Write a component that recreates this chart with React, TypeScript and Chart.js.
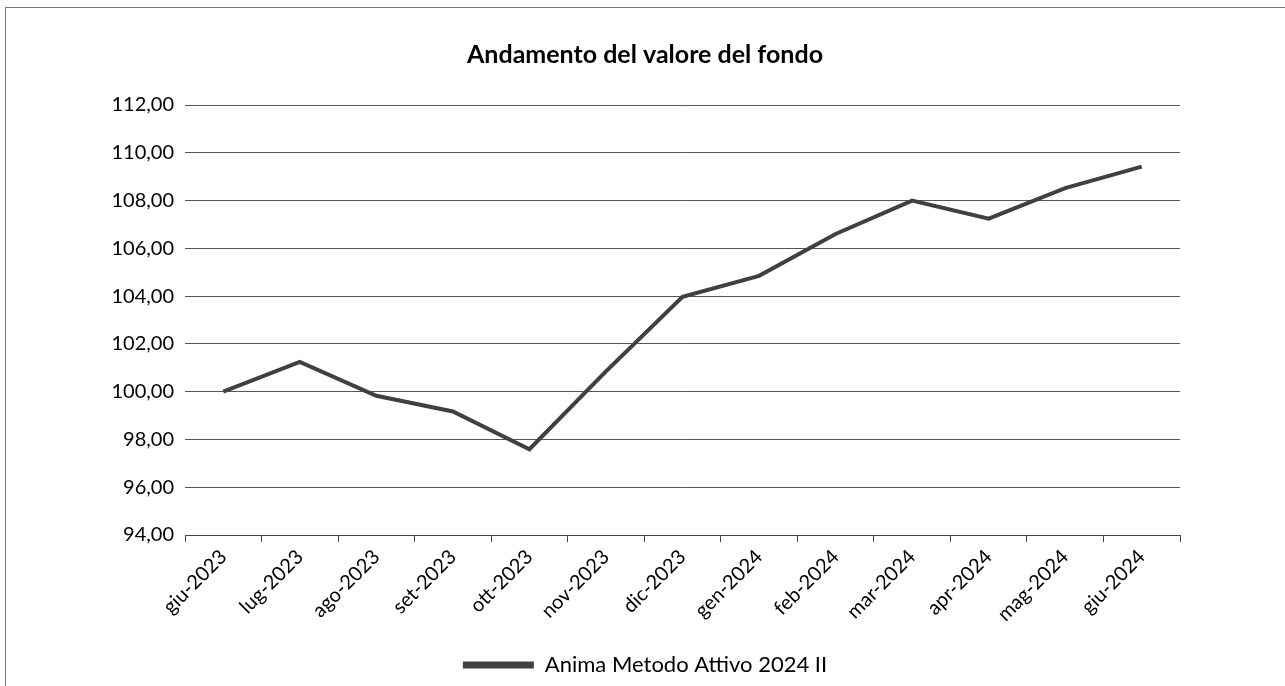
import React, { useEffect, useRef } from "react";
import { Chart, registerables } from "chart.js";

Chart.register(...registerables);

const categories = [
  "giu-2023", "lug-2023", "ago-2023", "set-2023", "ott-2023", "nov-2023", "dic-2023",
  "gen-2024", "feb-2024", "mar-2024", "apr-2024", "mag-2024", "giu-2024",
];
const seriesName = "Anima Metodo Attivo 2024 II";
const seriesValues = [100.0, 101.25, 99.83, 99.17, 97.59, 100.85, 103.97, 104.85, 106.6, 108.0, 107.24, 108.52, 109.42];
const yMin = 94;
const yMax = 112;
const yStep = 2;
const titleText = "Andamento del valore del fondo";

export default function App() {
  const ref = useRef<HTMLCanvasElement | null>(null);

  useEffect(() => {
    if (!ref.current) return;
    const font = "Lato";
    const chart = new Chart(ref.current, {
      type: "line",
      data: {
        labels: categories,
        datasets: [
          {
            label: seriesName,
            data: seriesValues,
            borderColor: "#404040",
            backgroundColor: "#404040",
            borderWidth: 4,
            pointRadius: 0,
            tension: 0,
          },
        ],
      },
      options: {
        responsive: false,
        animation: false,
        layout: { padding: { left: 110, right: 105, top: 0, bottom: 0 } },
        plugins: {
          tooltip: { enabled: false },
          title: {
            display: true,
            text: titleText,
            color: "#000",
            font: { family: font, size: 25, weight: "bold" },
            padding: { top: 40, bottom: 35 },
          },
          legend: {
            display: true,
            position: "bottom",
            labels: {
              color: "#000",
              font: { family: font, size: 22 },
              boxWidth: 71,
              boxHeight: 7,
              padding: 2,
              generateLabels: (c: any) =>
                Chart.defaults.plugins.legend.labels
                  .generateLabels(c)
                  .map((l: any) => ({ ...l, lineWidth: 0, fillStyle: "#404040", strokeStyle: "#404040" })),
            },
          },
        },
        scales: {
          x: {
            offset: true,
            grid: {
              display: true,
              offset: true,
              drawOnChartArea: false,
              drawTicks: true,
              tickLength: 7,
              color: "#444",
            },
            border: { display: true, color: "#444", width: 1 },
            ticks: {
              color: "#000",
              font: { family: font, size: 20 },
              maxRotation: 45,
              minRotation: 45,
              autoSkip: false,
              padding: 3,
            },
            afterFit: (s: any) => {
              s.height = 117;
            },
          },
          y: {
            min: yMin,
            max: yMax,
            grid: { color: "#555", lineWidth: 1, drawTicks: false },
            border: { display: false },
            ticks: {
              stepSize: yStep,
              color: "#000",
              font: { family: font, size: 20 },
              padding: 11,
              callback: (v: any) => Number(v).toFixed(2).replace(".", ","),
            },
            afterFit: (s: any) => {
              s.width = 75;
            },
          },
        },
      },
    });
    return () => chart.destroy();
  }, []);

  return (
    <div style={{ position: "fixed", left: 0, top: 0, width: 1285, height: 686, overflow: "hidden", background: "#fff" }}>
      <div
        style={{
          position: "absolute",
          left: 5,
          top: 7,
          width: 1300,
          height: 700,
          border: "1.5px solid #7a7a7a",
        }}
      />
      <canvas ref={ref} width={1285} height={686} style={{ position: "absolute", left: 0, top: 0 }} />
    </div>
  );
}
